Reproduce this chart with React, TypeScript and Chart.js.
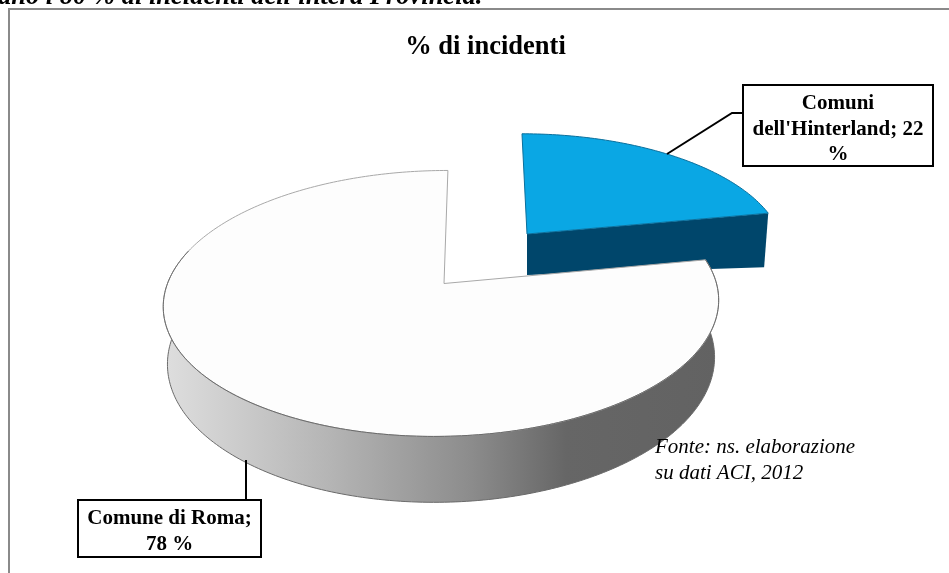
import React, { useEffect, useRef } from "react";
import { Chart, registerables } from "chart.js";

Chart.register(...registerables);

const categories = ["Comuni dell'Hinterland", "Comune di Roma"];
const shares = [22, 78];
const topColors = ["#0aa7e4", "#fdfdfd"];
const sideColors = ["#00466b", "#808080"];
const chartTitle = "% di incidenti";
const headerLine = "ano i 80 % di incidenti dell'intera Provincia.";
const sourceLines = ["Fonte: ns. elaborazione", "su dati ACI, 2012"];

const SERIF = "'Liberation Serif', 'Times New Roman', serif";

// Projection of the unit pie onto the page, one per slice (exploded slice has its own)
const views = [
  { cx: 527, cy: 234, a: 253, b: 114, k: 0.1376, skew: -5.7, drift: 0, depth: 41, depthSlope: 0.36, shrink: 0.983 },
  { cx: 444, cy: 283.5, a: 274.5, b: 130, k: 0.15, skew: 6.8, drift: -2, depth: 56, depthSlope: 0, shrink: 0.985 },
];

function project(view: any, angle: number, radius = 1, lower = false) {
  const t = angle + Math.PI / 2;
  const u = Math.sin(t) * radius;
  const v = Math.cos(t) * radius;
  const w = 1 / (1 + view.k * v);
  let x = view.a * u * w + view.skew * v * w + view.drift * radius;
  let y = -view.b * v * w;
  if (lower) {
    x *= view.shrink;
    y += view.depth * w * (1 + view.depthSlope * u);
  }
  return { x: view.cx + x, y: view.cy + y };
}

function arcPoints(view: any, start: number, end: number, lower = false) {
  const pts = [];
  const n = Math.max(8, Math.ceil(((end - start) * 180) / Math.PI));
  for (let i = 0; i <= n; i++) pts.push(project(view, start + ((end - start) * i) / n, 1, lower));
  return pts;
}

function trace(ctx: CanvasRenderingContext2D, pts: { x: number; y: number }[], close = true) {
  ctx.beginPath();
  pts.forEach((p, i) => (i ? ctx.lineTo(p.x, p.y) : ctx.moveTo(p.x, p.y)));
  if (close) ctx.closePath();
}

const pie3d = {
  id: "pie3d",
  beforeDraw(chart: any) {
    const ctx = chart.ctx;
    ctx.save();
    ctx.strokeStyle = "#8a8a8a";
    ctx.lineWidth = 2;
    ctx.beginPath();
    ctx.moveTo(9, 573);
    ctx.lineTo(9, 9);
    ctx.lineTo(949, 9);
    ctx.stroke();
    ctx.restore();
  },
  beforeDatasetDraw(chart: any, args: any) {
    const ctx = chart.ctx;
    const meta = args.meta;
    meta.data.forEach((arc: any, i: number) => {
      const view = views[i];
      const { startAngle, endAngle } = arc;
      const upper = arcPoints(view, startAngle, endAngle);
      ctx.save();
      // side wall
      if (i === 0) {
        const lowerPts = arcPoints(view, startAngle, endAngle, true);
        const apex = project(view, startAngle, 0);
        const apexLow = project(view, startAngle, 0, true);
        const tip = upper[upper.length - 1];
        const tipLow = lowerPts[lowerPts.length - 1];
        trace(ctx, [apex, tip, tipLow, apexLow]);
        ctx.fillStyle = sideColors[i];
        ctx.fill();
      } else {
        // only the front of the rim can be seen
        const wallEnd = endAngle - (75 * Math.PI) / 180;
        const rimTop = arcPoints(view, startAngle, wallEnd);
        const rimLow = arcPoints(view, startAngle, wallEnd, true);
        trace(ctx, [...rimTop, ...rimLow.slice().reverse()]);
        const g = ctx.createLinearGradient(165, 0, 722, 0);
        g.addColorStop(0, "#dedede");
        g.addColorStop(0.3, "#b4b4b4");
        g.addColorStop(0.55, "#8c8c8c");
        g.addColorStop(0.72, "#666666");
        g.addColorStop(1, "#626262");
        ctx.fillStyle = g;
        ctx.fill();
        trace(ctx, rimLow, false);
        ctx.strokeStyle = "#6a6a6a";
        ctx.lineWidth = 1;
        ctx.stroke();
      }
      // top face
      trace(ctx, [project(view, startAngle, 0), ...upper]);
      ctx.fillStyle = topColors[i];
      ctx.fill();
      ctx.strokeStyle = i === 0 ? "#0a6f9c" : "#a8a8a8";
      ctx.lineWidth = 1;
      ctx.stroke();
      if (i === 1) {
        trace(ctx, arcPoints(view, startAngle, endAngle - (75 * Math.PI) / 180), false);
        ctx.strokeStyle = "#6a6a6a";
        ctx.stroke();
      }
      ctx.restore();
    });
    return false;
  },
  afterDraw(chart: any) {
    const ctx = chart.ctx;
    ctx.save();
    ctx.fillStyle = "#000";
    ctx.textBaseline = "alphabetic";

    ctx.textAlign = "left";
    ctx.font = `italic bold 26.5px ${SERIF}`;
    ctx.fillText(headerLine, -2, 4);

    ctx.font = `italic 21px ${SERIF}`;
    ctx.fillText(sourceLines[0], 655, 453);
    ctx.fillText(sourceLines[1], 655, 479);

    // leader lines
    ctx.strokeStyle = "#000";
    ctx.lineWidth = 2;
    ctx.beginPath();
    ctx.moveTo(667, 154);
    ctx.lineTo(732, 113);
    ctx.lineTo(743, 113);
    ctx.moveTo(246, 460);
    ctx.lineTo(246, 500);
    ctx.stroke();

    // callouts
    const boxes = [
      { x: 743, y: 85, w: 190, h: 81, lines: ["Comuni", `dell'Hinterland; ${shares[0]}`, "%"], first: 109, gap: 25.5 },
      { x: 78, y: 500, w: 183, h: 57, lines: [`Comune di Roma;`, `${shares[1]} %`], first: 524, gap: 25.5 },
    ];
    boxes.forEach((b) => {
      ctx.fillStyle = "#fff";
      ctx.fillRect(b.x, b.y, b.w, b.h);
      ctx.strokeRect(b.x, b.y, b.w, b.h);
      ctx.fillStyle = "#000";
      ctx.font = `bold 21px ${SERIF}`;
      ctx.textAlign = "center";
      b.lines.forEach((l, i) => ctx.fillText(l, b.x + b.w / 2, b.first + i * b.gap));
    });
    ctx.restore();
  },
};

export default function App() {
  const ref = useRef<HTMLCanvasElement>(null);
  useEffect(() => {
    const chart = new Chart(ref.current as HTMLCanvasElement, {
      type: "pie",
      data: {
        labels: categories,
        datasets: [{ data: shares, backgroundColor: topColors }],
      },
      options: {
        animation: false,
        responsive: false,
        devicePixelRatio: 1,
        layout: { padding: { left: 22 } },
        plugins: {
          legend: { display: false },
          tooltip: { enabled: false },
          title: {
            display: true,
            fullSize: false,
            text: chartTitle,
            color: "#000",
            font: { family: SERIF, size: 26.5, weight: "bold" },
            padding: { top: 31, bottom: 10 },
          },
        },
      },
      plugins: [pie3d],
    } as any);
    return () => chart.destroy();
  }, []);
  return (
    <canvas
      ref={ref}
      width={949}
      height={573}
      style={{ position: "fixed", left: 0, top: 0, width: 949, height: 573, background: "#fff" }}
    />
  );
}
